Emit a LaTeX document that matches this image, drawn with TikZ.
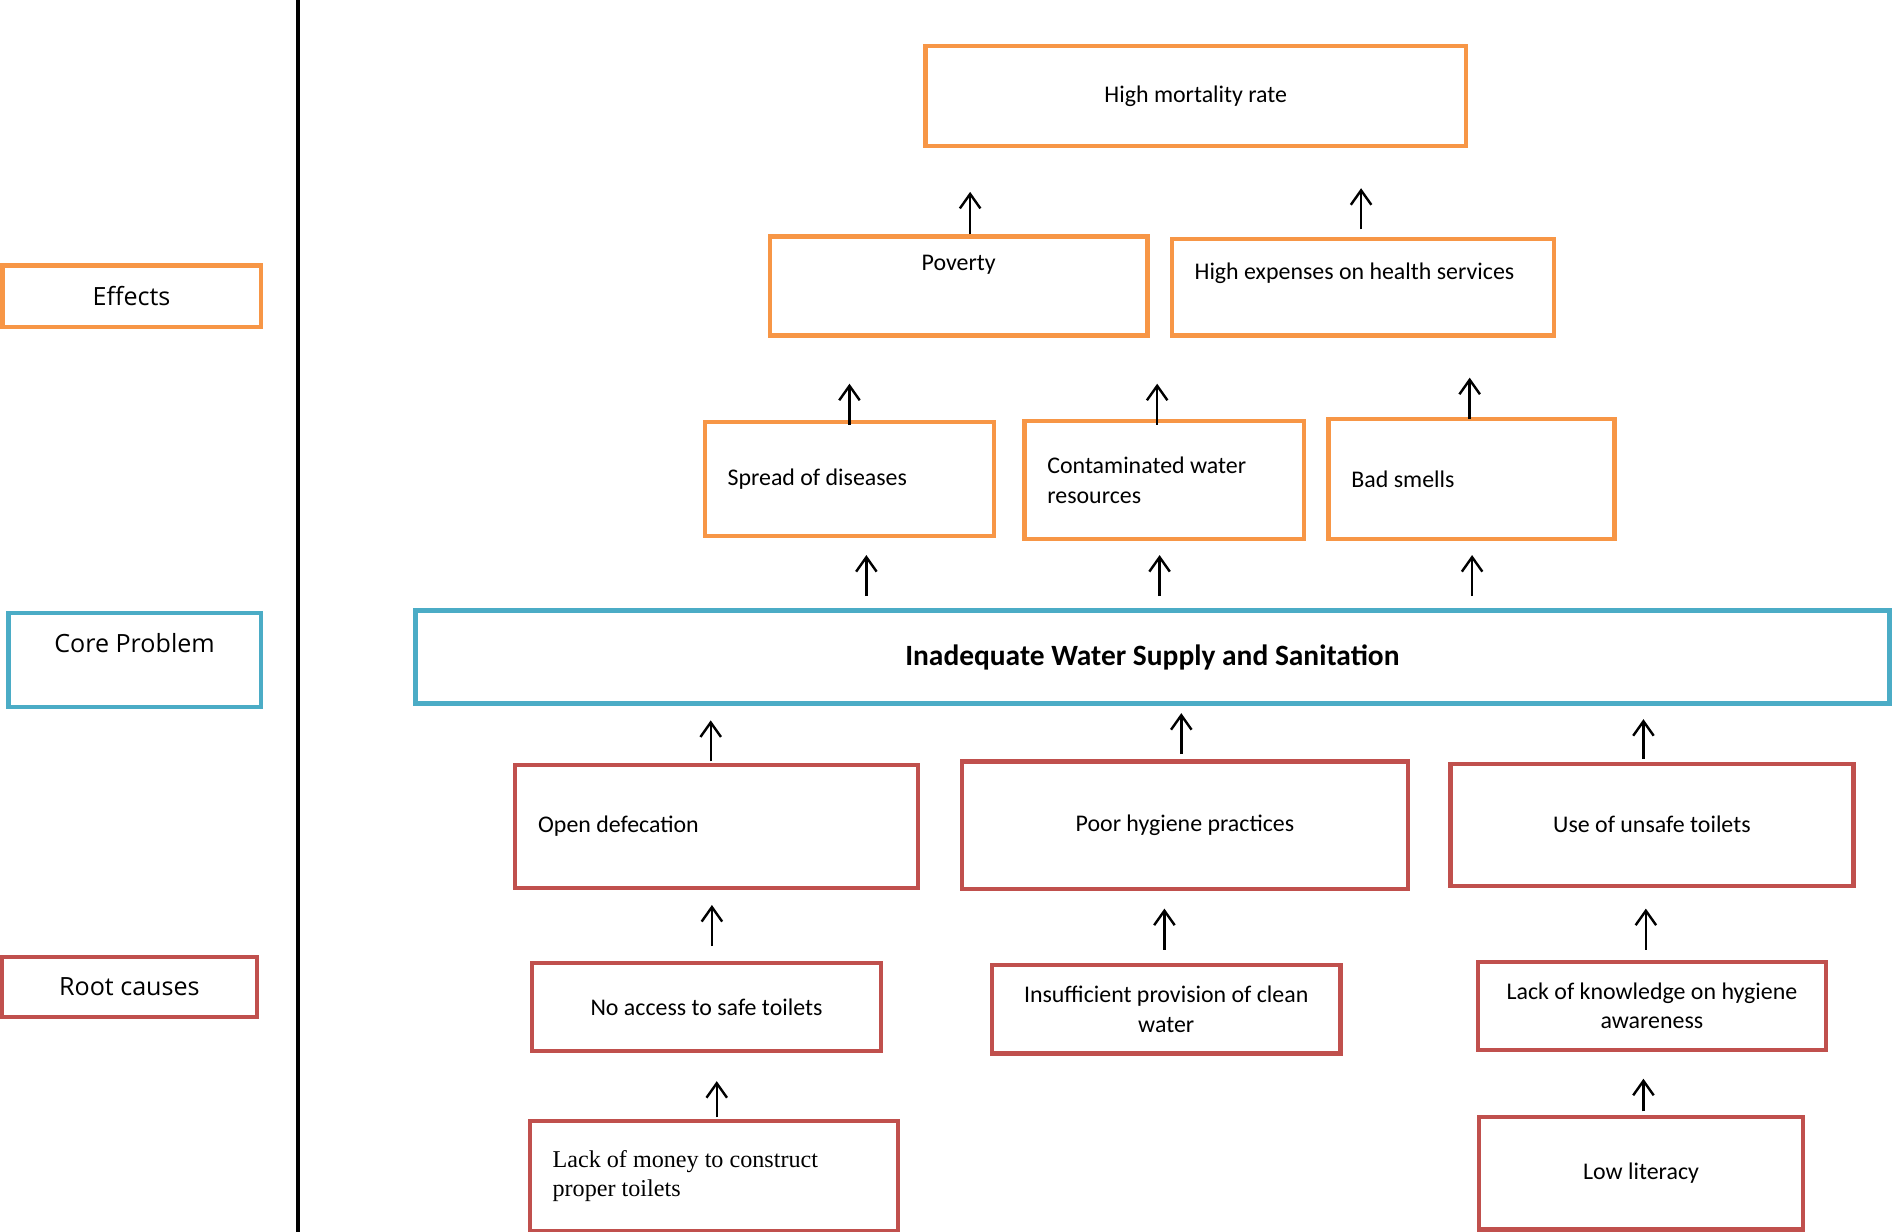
\documentclass[tikz,border=0pt]{standalone}
\usepackage{fontspec}
\setmainfont{Carlito}
\newfontfamily\lblfont{Open Sans}
\newfontfamily\serfont{Liberation Serif}
\usetikzlibrary{arrows.meta}
\definecolor{eorange}{HTML}{F79646}
\definecolor{cblue}{HTML}{4BACC6}
\definecolor{rred}{HTML}{C0504D}
\begin{document}
\begin{tikzpicture}[x=1pt,y=-1pt,
  bx/.style={draw, rectangle, line width=3.5pt, inner sep=0pt, fill=white,
    font=\fontsize{19.8}{24.5}\selectfont},
  eff/.style={bx, draw=eorange},
  corebox/.style={bx, draw=cblue, line width=4pt},
  root/.style={bx, draw=rred},
  lt/.style={align=flush left, execute at begin node={\spaceskip=0pt\xspaceskip=0pt}},
  ct/.style={align=center, execute at begin node={\spaceskip=0pt\xspaceskip=0pt}},
  lbl/.style={font=\lblfont\fontsize{20.8}{25}\selectfont},
  arr/.style={line width=2pt, -{Straight Barb[length=12pt,width=17pt]}}
]
\useasboundingbox (0,0) rectangle (1568,1021);

% left legend
\coordinate (vtop) at (247,0);
\coordinate (vbot) at (247,1021);
\draw[line width=3.5pt] (vtop) -- (vbot);
\node[eff, lbl, minimum width=214, minimum height=51] (leff) at (109,245.5) {Effects};
\node[bx, draw=cblue, lbl, minimum width=209, minimum height=78] (lcore) at (111.5,547) {\raisebox{6.5pt}[0pt][0pt]{Core Problem}};
\node[root, lbl, minimum width=211.5, minimum height=50] (lroot) at (107.25,818) {Root causes};

% effects
\node[eff, minimum width=448, minimum height=83] (mort) at (991,79.5) {High mortality rate};
\node[eff, minimum width=313, minimum height=82] (pov) at (794.5,237) {\raisebox{13pt}[0pt][0pt]{Poverty}};
\node[eff, minimum width=317, minimum height=80] (exp) at (1129.5,238) {\raisebox{6pt}[0pt][0pt]{High expenses on health services}\kern14pt};
\node[eff, lt, minimum width=240, minimum height=94, text width=202] (spread) at (704,397) {Spread of diseases};
\node[eff, lt, minimum width=232, minimum height=98, text width=194] (contam) at (965,398) {Contaminated water\\resources};
\node[eff, lt, minimum width=237, minimum height=100, text width=199] (smell) at (1219.5,397) {Bad smells};

% core problem
\node[corebox, minimum width=1222, minimum height=77, font=\fontsize{24.4}{29}\selectfont\bfseries] (core) at (955,544.5) {Inadequate Water Supply and Sanitation};

% causes
\node[root, lt, minimum width=334, minimum height=102, text width=296] (open) at (594,685) {Open defecation};
\node[root, minimum width=370, minimum height=106] (hyg) at (982,684) {Poor hygiene practices};
\node[root, minimum width=334, minimum height=101] (unsafe) at (1369,683.5) {Use of unsafe toilets};
\node[root, minimum width=289, minimum height=73] (noacc) at (585.5,834.5) {No access to safe toilets};
\node[root, ct, minimum width=289, minimum height=73] (insuf) at (966.5,836.5) {Insufficient provision of clean\\water};
\node[root, ct, minimum width=288, minimum height=73] (know) at (1369,833.5) {Lack of knowledge on hygiene\\awareness};
\node[root, lt, minimum width=305, minimum height=91, text width=267, font=\serfont\fontsize{20}{24}\selectfont] (money) at (591.5,974.5) {Lack of money to construct\\proper toilets};
\node[root, minimum width=268, minimum height=93] (lit) at (1360,972.5) {Low literacy};

% arrows
\foreach \n/\x/\a/\b in {1/804/194/159, 2/1128/190/156, 3/704/352/318, 4/959/352/318,
  5/1218/347/313, 6/718/494/460, 7/961/494/460, 8/1220/494/460, 9/589/631/597,
  10/979/625/591, 11/1362/629/596, 12/590/784/750, 13/965/787/753, 14/1364/787/753,
  15/594/926/896, 16/1362/921/894}{
  \coordinate (t\n) at (\x,\a);
  \coordinate (h\n) at (\x,\b);
  \draw[arr] (t\n) -- (h\n);
}
\end{tikzpicture}
\end{document}
